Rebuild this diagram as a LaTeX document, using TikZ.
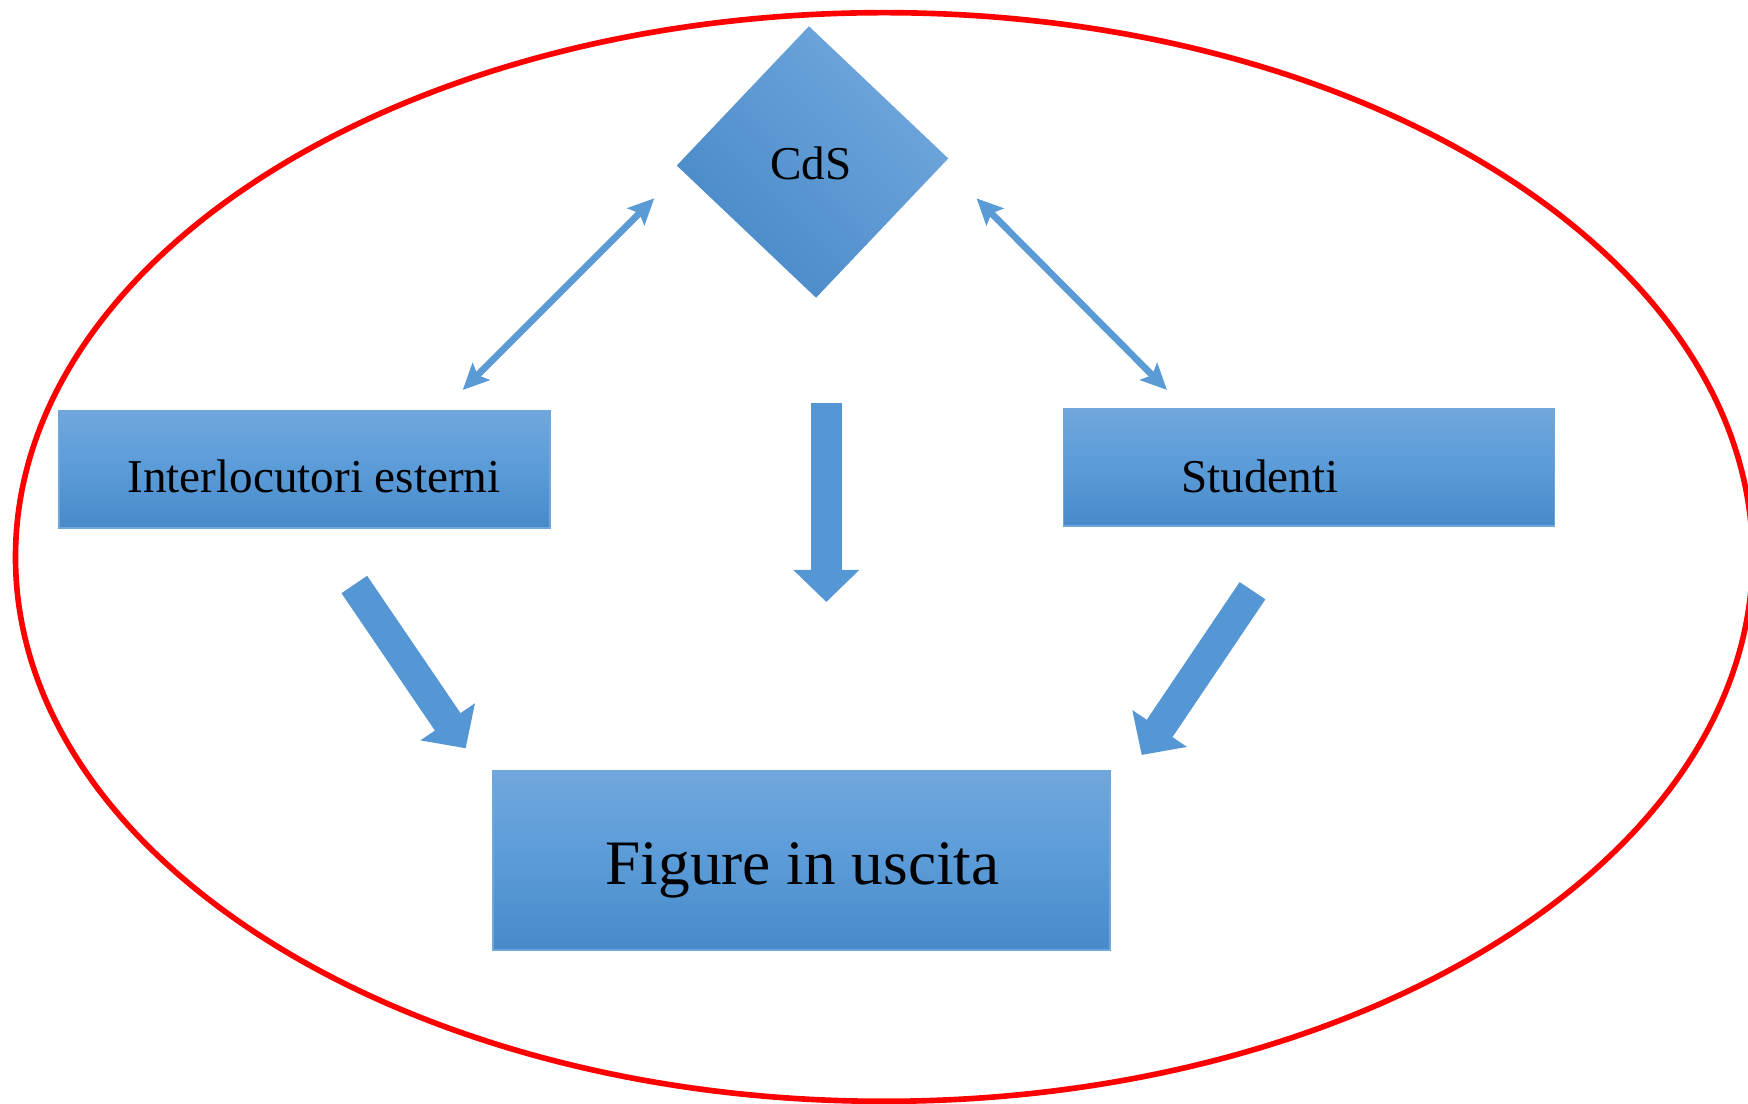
\documentclass[tikz,border=0pt]{standalone}
\usepackage{fontspec}
\setmainfont{Liberation Serif}
\usepackage{tikz}
\usetikzlibrary{shapes.geometric,arrows.meta,calc}
\usepackage{xcolor}

\definecolor{boxtop}{HTML}{70A7DC}
\definecolor{boxmid}{HTML}{5A9BD8}
\definecolor{boxbot}{HTML}{4889C8}
\definecolor{boxline}{HTML}{6FA6DC}
\definecolor{arrowblue}{HTML}{5B9BD5}
\definecolor{blockblue}{HTML}{5597D4}

\tikzset{
  box/.style={rectangle, draw=boxline, line width=0.5pt, inner sep=0pt,
    top color=boxtop, bottom color=boxbot, middle color=boxmid},
  lbl/.style={anchor=base, inner sep=0pt, font=\fontsize{13.4}{16}\selectfont},
  twoway/.style={draw=arrowblue, line width=1.9pt,
    {Stealth[length=0.26cm, width=0.24cm, inset=0.05cm]}-{Stealth[length=0.26cm, width=0.24cm, inset=0.05cm]}},
  flow/.style={draw=blockblue, line width=0.31cm,
    -{Triangle[length=0.32cm, width=0.64cm]}},
  ring/.style={draw=red, line width=1.6pt}
}

\begin{document}
\begin{tikzpicture}[x=0.01cm, y=-0.01cm]

\useasboundingbox (0,0) rectangle (1748,1104);

% Outer ellipse
\draw[ring] (884,557) ellipse [x radius=8.68cm, y radius=5.44cm];

% CdS
\node[diamond, aspect=1, inner sep=0pt, minimum width=2.72cm, minimum height=2.72cm,
  rotate=1.5, shading=axis, top color=boxtop, bottom color=boxbot, shading angle=-45]
  (cds) at (812.5,162) {};
\node[lbl] (cdstxt) at (811,180) {CdS};

% Boxes
\node[box, minimum width=4.91cm, minimum height=1.17cm] (ext) at (304.5,469.5) {};
\node[lbl] (exttxt) at (314,493) {Interlocutori esterni};

\node[box, minimum width=4.905cm, minimum height=1.17cm] (stud) at (1309,467.5) {};
\node[lbl] (studtxt) at (1260,493) {Studenti};

\node[box, minimum width=6.17cm, minimum height=1.79cm] (fig) at (801.5,860.5) {};
\node[lbl, font=\fontsize{18}{22}\selectfont] (figtxt) at (802.5,885) {Figure in uscita};

% Two-way arrows
\coordinate (l1) at (462.7,390);
\coordinate (l2) at (654.3,198.3);
\coordinate (r1) at (976.6,198.4);
\coordinate (r2) at (1167,390);
\draw[twoway] (l1) -- (l2);
\draw[twoway] (r1) -- (r2);

% Block arrows
\coordinate (a1) at (354.3,584.5);
\coordinate (a2) at (465.7,748.3);
\coordinate (b1) at (826.3,403);
\coordinate (b2) at (826.3,602);
\coordinate (c1) at (1252.5,590.7);
\coordinate (c2) at (1141.7,755);
\draw[flow] (a1) -- (a2);
\draw[flow] (b1) -- (b2);
\draw[flow] (c1) -- (c2);

\end{tikzpicture}
\end{document}
